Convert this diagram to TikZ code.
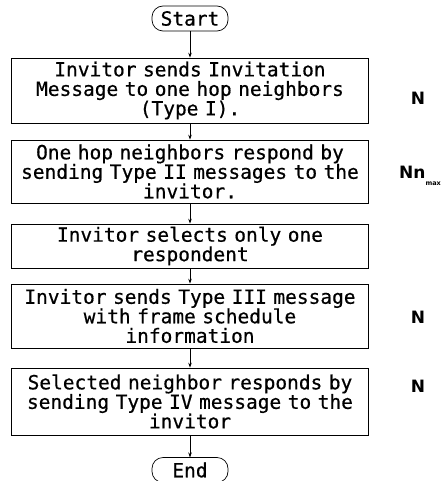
\documentclass[tikz,border=0pt]{standalone}
\usepackage{fontspec}
\usetikzlibrary{arrows.meta}
\newfontfamily\flowfont[FakeBold=0.6]{DejaVu Sans Mono}
\newfontfamily\labfont{DejaVu Sans}
\begin{document}
\begin{tikzpicture}[x=1pt,y=-1pt,
  every node/.style={font=\flowfont\fontsize{19.5}{19.5}\selectfont},
  procbox/.style={draw, line width=0.7pt, inner sep=0pt, text width=357pt,
    minimum width=357pt, align=center},
  termbox/.style={draw, line width=0.7pt, rounded corners=11pt, inner sep=0pt,
    minimum width=76pt, minimum height=25pt},
  flow/.style={line width=0.7pt, -{Stealth[length=5pt,width=3.5pt]}},
  cost/.style={font=\labfont\bfseries\fontsize{17}{18}\selectfont, inner sep=0pt}]
\useasboundingbox (0,0) rectangle (446,481);
\begin{scope}
\clip (0,0) rectangle (446,481);
% terminals
\node[termbox] (start) at (190,18.5) {Start};
\node[termbox] (stop) at (190,470) {End};
\end{scope}
% process steps
\node[procbox, minimum height=65pt] (s1) at (190,90.5)
  {Invitor sends Invitation\\Message to one hop neighbors\\(Type I).};
\node[procbox, minimum height=63pt] (s2) at (190,171.5)
  {One hop neighbors respond by\\sending Type II messages to the\\invitor.};
\node[procbox, minimum height=44pt] (s3) at (190,246)
  {Invitor selects only one\\respondent};
\node[procbox, minimum height=64pt] (s4) at (190,316)
  {Invitor sends Type III message\\with frame schedule\\information};
\node[procbox, minimum height=67pt] (s5) at (190,401.5)
  {Selected neighbor responds by\\sending Type IV message to the\\invitor};
% connectors
\draw[flow] (start) -- (s1);
\draw[flow] (s1) -- (s2);
\draw[flow] (s2) -- (s3);
\draw[flow] (s3) -- (s4);
\draw[flow] (s4) -- (s5);
\draw[flow] (s5) -- (190,457.5);
% message counts
\node[cost] (c1) at (418,98) {N};
\node[cost, anchor=west] (c2) at (399,176) {Nn\raisebox{-7pt}{\fontsize{6.5}{7}\selectfont max}};
\node[cost] (c4) at (418,317) {N};
\node[cost] (c5) at (418,386) {N};
\end{tikzpicture}
\end{document}
